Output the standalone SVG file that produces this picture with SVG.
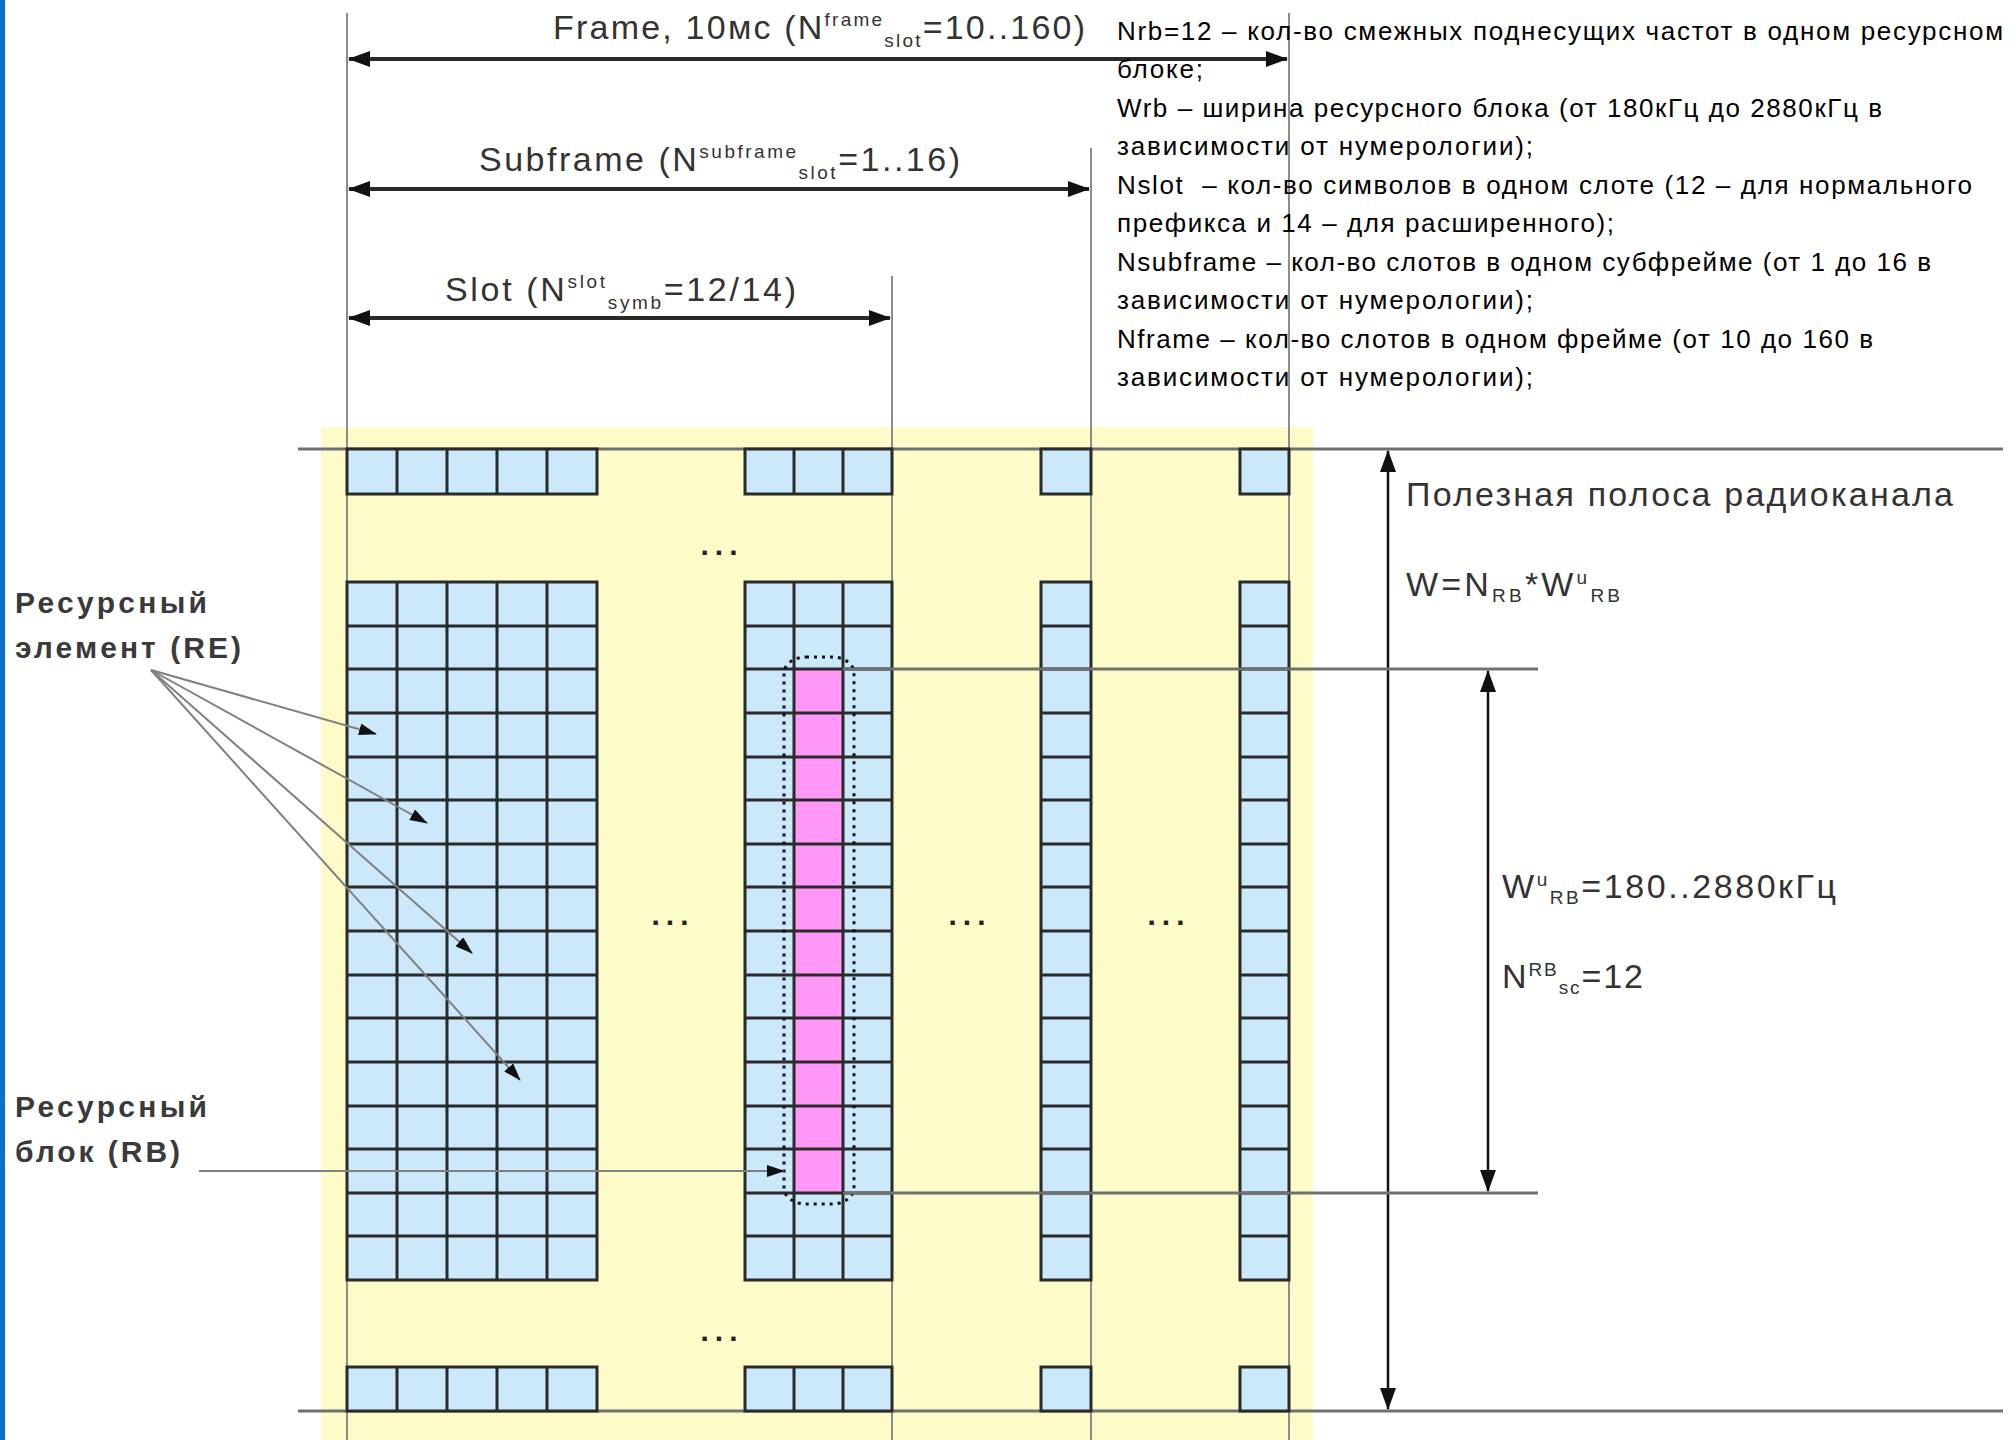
<svg xmlns="http://www.w3.org/2000/svg" width="2013" height="1440" viewBox="0 0 2013 1440">
<defs>
<style>
.cell{fill:#cbe9fb;stroke:#2a2a2a;stroke-width:3}
.grid{stroke:#2a2a2a;stroke-width:3;fill:none}
.pink{fill:#ff98f7}
.vline{stroke:#8c8c8c;stroke-width:2}
.hline{stroke:#707070;stroke-width:3}
.dim{stroke:#2a2a2a;stroke-width:4;fill:none}
.varr{stroke:#111;stroke-width:2.5;fill:none}
.lead{stroke:#808080;stroke-width:2;fill:none}
.lbl{font-family:"Liberation Sans",Arial,sans-serif;fill:#333;font-size:34px}
.side{font-family:"Liberation Sans",Arial,sans-serif;fill:#3a3a3a;font-size:30px;font-weight:bold}
.note{font-family:"Liberation Sans",Arial,sans-serif;font-size:26px;fill:#000}
.dots{font-family:"Liberation Sans",Arial,sans-serif;font-size:30px;font-weight:bold;fill:#222;letter-spacing:6px}
</style>
<marker id="ah" viewBox="0 0 22 16" refX="21" refY="8" markerWidth="22" markerHeight="16" markerUnits="userSpaceOnUse" orient="auto-start-reverse">
<path d="M0,0 L22,8 L0,16 z" fill="#111"/>
</marker>
<marker id="ahs" viewBox="0 0 18 12" refX="17" refY="6" markerWidth="18" markerHeight="12" markerUnits="userSpaceOnUse" orient="auto">
<path d="M0,0 L18,6 L0,12 z" fill="#111"/>
</marker>
</defs>

<rect x="0" y="0" width="2013" height="1440" fill="#fff"/>
<rect x="0" y="0" width="5" height="1440" fill="#0a6fd0"/>
<rect id="band-bg" x="321" y="427" width="992" height="1013" fill="#fdfcc8"/>

<g id="guides">
<line class="vline" x1="347" y1="13" x2="347" y2="1440"/>
<line class="vline" x1="892" y1="276" x2="892" y2="1440"/>
<line class="vline" x1="1091" y1="148" x2="1091" y2="1440"/>
<line class="vline" x1="1289" y1="13" x2="1289" y2="1440"/>
<line class="hline" x1="298" y1="449" x2="2003" y2="449"/>
<line class="hline" x1="298" y1="1411" x2="2003" y2="1411"/>
</g>

<g id="block-slot1">
<rect class="cell" x="347" y="449" width="250" height="45"/>
<path class="grid" d="M397 449V494M447 449V494M497 449V494M547 449V494"/>
<rect class="cell" x="347" y="582" width="250" height="698"/>
<path class="grid" d="M397 582V1280M447 582V1280M497 582V1280M547 582V1280M347 626H597M347 669H597M347 713H597M347 757H597M347 800H597M347 844H597M347 887H597M347 931H597M347 975H597M347 1018H597M347 1062H597M347 1106H597M347 1149H597M347 1193H597M347 1236H597"/>
<rect class="cell" x="347" y="1367" width="250" height="44"/>
<path class="grid" d="M397 1367V1411M447 1367V1411M497 1367V1411M547 1367V1411"/>
</g>

<g id="block-slot2">
<rect class="cell" x="745" y="449" width="147" height="45"/>
<path class="grid" d="M794 449V494M843 449V494"/>
<rect class="cell" x="745" y="582" width="147" height="698"/>
<rect class="pink" x="794" y="669" width="49" height="524"/>
<path class="grid" d="M794 582V1280M843 582V1280M745 626H892M745 669H892M745 713H892M745 757H892M745 800H892M745 844H892M745 887H892M745 931H892M745 975H892M745 1018H892M745 1062H892M745 1106H892M745 1149H892M745 1193H892M745 1236H892"/>
<rect class="cell" x="745" y="1367" width="147" height="44"/>
<path class="grid" d="M794 1367V1411M843 1367V1411"/>
</g>

<g id="block-slot3">
<rect class="cell" x="1041" y="449" width="50" height="45"/>
<rect class="cell" x="1041" y="582" width="50" height="698"/>
<path class="grid" d="M1041 626H1091M1041 669H1091M1041 713H1091M1041 757H1091M1041 800H1091M1041 844H1091M1041 887H1091M1041 931H1091M1041 975H1091M1041 1018H1091M1041 1062H1091M1041 1106H1091M1041 1149H1091M1041 1193H1091M1041 1236H1091"/>
<rect class="cell" x="1041" y="1367" width="50" height="44"/>
</g>

<g id="block-slot4">
<rect class="cell" x="1240" y="449" width="49" height="45"/>
<rect class="cell" x="1240" y="582" width="49" height="698"/>
<path class="grid" d="M1240 626H1289M1240 669H1289M1240 713H1289M1240 757H1289M1240 800H1289M1240 844H1289M1240 887H1289M1240 931H1289M1240 975H1289M1240 1018H1289M1240 1062H1289M1240 1106H1289M1240 1149H1289M1240 1193H1289M1240 1236H1289"/>
<rect class="cell" x="1240" y="1367" width="49" height="44"/>
</g>

<g id="rb-outline">
<rect x="784" y="657" width="70" height="547" rx="22" ry="16" fill="none" stroke="#111" stroke-width="3" stroke-dasharray="3 5"/>
</g>

<g id="ellipses">
<text class="dots" x="722" y="555" text-anchor="middle">...</text>
<text class="dots" x="673" y="925" text-anchor="middle">...</text>
<text class="dots" x="970" y="925" text-anchor="middle">...</text>
<text class="dots" x="1169" y="925" text-anchor="middle">...</text>
<text class="dots" x="722" y="1341" text-anchor="middle">...</text>
</g>

<g id="connectors">
<line class="dim" x1="349" y1="59" x2="1287" y2="59" marker-start="url(#ah)" marker-end="url(#ah)"/>
<line class="dim" x1="349" y1="189" x2="1089" y2="189" marker-start="url(#ah)" marker-end="url(#ah)"/>
<line class="dim" x1="349" y1="318" x2="890" y2="318" marker-start="url(#ah)" marker-end="url(#ah)"/>
<line class="varr" x1="1388" y1="451" x2="1388" y2="1409" marker-start="url(#ah)" marker-end="url(#ah)"/>
<line class="hline" x1="843" y1="669" x2="1538" y2="669"/>
<line class="hline" x1="843" y1="1193" x2="1538" y2="1193"/>
<line class="varr" x1="1488" y1="671" x2="1488" y2="1191" marker-start="url(#ah)" marker-end="url(#ah)"/>
<path class="lead" d="M151 670L376 734" marker-end="url(#ahs)"/>
<path class="lead" d="M151 670L427 823" marker-end="url(#ahs)"/>
<path class="lead" d="M151 670L472 953" marker-end="url(#ahs)"/>
<path class="lead" d="M151 670L520 1080" marker-end="url(#ahs)"/>
<path class="lead" d="M199 1171L784 1171" marker-end="url(#ahs)"/>
</g>

<g id="label-frame">
<text class="lbl" x="553" y="39" textLength="532">Frame, 10мс (N<tspan font-size="19" dy="-13">frame</tspan><tspan font-size="19" dy="21">slot</tspan><tspan dy="-8">=10..160)</tspan></text>
</g>
<g id="label-subframe">
<text class="lbl" x="479" y="171" textLength="481">Subframe (N<tspan font-size="19" dy="-13">subframe</tspan><tspan font-size="19" dy="21">slot</tspan><tspan dy="-8">=1..16)</tspan></text>
</g>
<g id="label-slot">
<text class="lbl" x="445" y="301" textLength="351">Slot (N<tspan font-size="19" dy="-13">slot</tspan><tspan font-size="19" dy="21">symb</tspan><tspan dy="-8">=12/14)</tspan></text>
</g>

<g id="label-band">
<text class="lbl" x="1406" y="506" textLength="547" font-size="30">Полезная полоса радиоканала</text>
<text class="lbl" x="1406" y="596" font-size="31" textLength="214">W=N<tspan font-size="19" dy="6">RB</tspan><tspan dy="-6">*W</tspan><tspan font-size="19" dy="-12">u</tspan><tspan font-size="19" dy="18">RB</tspan></text>
</g>
<g id="label-rb">
<text class="lbl" x="1502" y="898" font-size="31" textLength="334">W<tspan font-size="19" dy="-12">u</tspan><tspan font-size="19" dy="18">RB</tspan><tspan dy="-6">=180..2880кГц</tspan></text>
<text class="lbl" x="1502" y="988" font-size="31" textLength="141">N<tspan font-size="19" dy="-12">RB</tspan><tspan font-size="19" dy="18">sc</tspan><tspan dy="-6">=12</tspan></text>
</g>

<g id="label-re">
<text class="side" x="15" y="613" textLength="192">Ресурсный</text>
<text class="side" x="15" y="658" textLength="226">элемент (RE)</text>
</g>
<g id="label-rb-left">
<text class="side" x="15" y="1117" textLength="192">Ресурсный</text>
<text class="side" x="15" y="1162" textLength="165">блок (RB)</text>
</g>

<g id="notes">
<text class="note" x="1117" y="40" textLength="886">Nrb=12 – кол-во смежных поднесущих частот в одном ресурсном</text>
<text class="note" x="1117" y="78" textLength="86">блоке;</text>
<text class="note" x="1117" y="117" textLength="765">Wrb – ширина ресурсного блока (от 180кГц до 2880кГц в</text>
<text class="note" x="1117" y="155" textLength="416">зависимости от нумерологии);</text>
<text class="note" x="1117" y="194" textLength="855" style="white-space:pre">Nslot  – кол-во символов в одном слоте (12 – для нормального</text>
<text class="note" x="1117" y="232" textLength="497">префикса и 14 – для расширенного);</text>
<text class="note" x="1117" y="271" textLength="814">Nsubframe – кол-во слотов в одном субфрейме (от 1 до 16 в</text>
<text class="note" x="1117" y="309" textLength="416">зависимости от нумерологии);</text>
<text class="note" x="1117" y="348" textLength="756">Nframe – кол-во слотов в одном фрейме (от 10 до 160 в</text>
<text class="note" x="1117" y="386" textLength="416">зависимости от нумерологии);</text>
</g>
</svg>
